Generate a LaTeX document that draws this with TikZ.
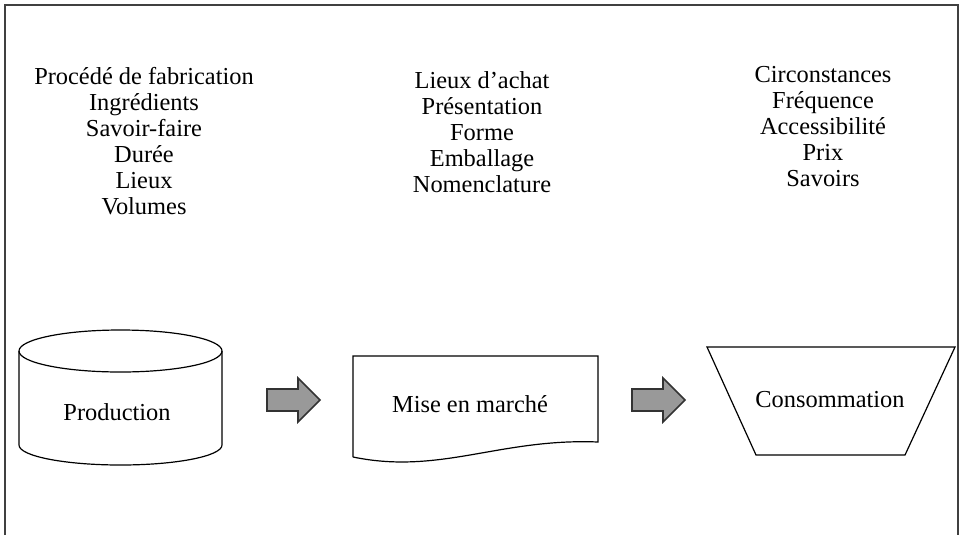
\documentclass[tikz,border=0pt]{standalone}
\usepackage{fontspec}
\setmainfont{Liberation Serif}

\tikzset{
  list/.style={align=center, anchor=north},
  label/.style={anchor=base},
  blockarrow/.style={draw=black!80, fill=black!40, line width=0.8pt, line join=miter}
}

\begin{document}
\begin{tikzpicture}[x=0.5pt, y=-0.5pt, line width=0.6pt,
  every node/.style={font=\fontsize{12.2}{13}\selectfont, inner sep=0pt}]
  \useasboundingbox (0,0) rectangle (961,535);
  % frame, open at the bottom
  \draw[line width=0.9pt, black!75] (5,535) -- (5,5) -- (958,5) -- (958,535);

  % lists above each stage
  \node[list] (prodlist) at (144,67) {Procédé de fabrication\\Ingrédients\\Savoir-faire\\Durée\\Lieux\\Volumes};
  \node[list] (mislist) at (482,71) {Lieux d’achat\\Présentation\\Forme\\Emballage\\Nomenclature};
  \node[list] (conslist) at (823,66) {Circonstances\\Fréquence\\Accessibilité\\Prix\\Savoirs};

  % stages
  \draw (19,351) -- (19,445) arc[start angle=180, end angle=0, x radius=101.5, y radius=20] -- (222,351);
  \draw (120.5,351) ellipse [x radius=101.5, y radius=21];
  \node[label] (prod) at (117,420) {Production};

  \draw (353,457) -- (353,356) -- (598,356) -- (598,442)
    .. controls (500,438) and (440,475) .. (353,457);
  \node[label] (mise) at (470,412) {Mise en marché};

  \draw (707,347) -- (955,347) -- (905,455) -- (756,455) -- cycle;
  \node[label] (cons) at (830,407) {Consommation};

  % block arrows
  \draw[blockarrow] (267,389) -- (298,389) -- (298,378) -- (320,400)
    -- (298,422) -- (298,411) -- (267,411) -- cycle;
  \draw[blockarrow] (632,389) -- (663,389) -- (663,378) -- (685,400)
    -- (663,422) -- (663,411) -- (632,411) -- cycle;
\end{tikzpicture}
\end{document}
